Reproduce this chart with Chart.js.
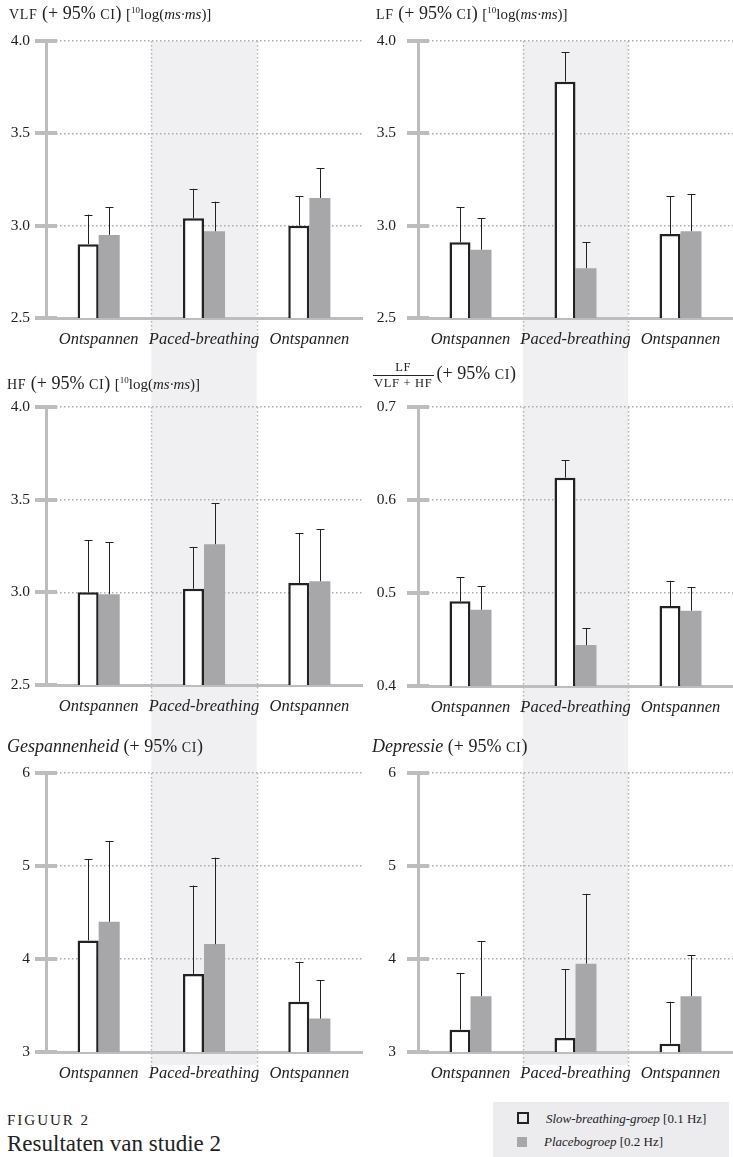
<!DOCTYPE html>
<html>
<head>
<meta charset="utf-8">
<script src="https://cdn.jsdelivr.net/npm/chart.js@4.4.0/dist/chart.umd.min.js"></script>
<style>
  body { margin: 0; width: 733px; height: 1157px; position: relative; background: #fff;
         font-family: "Liberation Serif", serif; color: #222; overflow: hidden; }
  canvas { position: absolute; display: block; }
  .titel { position: absolute; z-index: 2; font-size: 18px; white-space: nowrap; line-height: 1; }
  .kap { font-size: 14px; letter-spacing: 0.7px; }
  .klein { font-size: 15px; }
  .klein sup { font-size: 9px; }
  .breuk { display: inline-block; vertical-align: middle; text-align: center; font-size: 12.5px; letter-spacing: 0.7px; margin-right: 3px; }
  .breuk span { display: block; padding: 0 1px; }
  .breuk .boven { border-bottom: 1px solid #222; padding-bottom: 1px; }
  .breuk .onder { padding-top: 1px; }
  #figuur { position: absolute; left: 7px; top: 1112px; font-size: 15px; letter-spacing: 2px; }
  #onderschrift { position: absolute; left: 7px; top: 1131px; font-size: 23px; }
  #legenda { position: absolute; left: 493px; top: 1102px; width: 236px; height: 55px; background: #ececee; font-size: 13px; }
  #legenda .item { position: absolute; left: 24px; white-space: nowrap; }
  #legenda .blok { display: inline-block; width: 10px; height: 10px; margin-right: 17px; vertical-align: -1px; }
</style>
</head>
<body>

<canvas id="vlf" width="366" height="370" style="left:0;top:0"></canvas>
<canvas id="lf" width="367" height="370" style="left:366px;top:0"></canvas>
<canvas id="hf" width="366" height="370" style="left:0;top:370px"></canvas>
<canvas id="ratio" width="367" height="370" style="left:366px;top:370px"></canvas>
<canvas id="spanning" width="366" height="345" style="left:0;top:740px"></canvas>
<canvas id="depressie" width="367" height="345" style="left:366px;top:740px"></canvas>

<div class="titel" style="left:9px;top:4px"><span class="kap">VLF</span> (+ 95% <span class="kap">CI</span>) <span class="klein">[<sup>10</sup>log(<i>ms·ms</i>)]</span></div>
<div class="titel" style="left:376px;top:4px"><span class="kap">LF</span> (+ 95% <span class="kap">CI</span>) <span class="klein">[<sup>10</sup>log(<i>ms·ms</i>)]</span></div>
<div class="titel" style="left:7px;top:374px"><span class="kap">HF</span> (+ 95% <span class="kap">CI</span>) <span class="klein">[<sup>10</sup>log(<i>ms·ms</i>)]</span></div>
<div class="titel" style="left:373px;top:361px"><span class="breuk"><span class="boven">LF</span><span class="onder">VLF + HF</span></span>(+ 95% <span class="kap">CI</span>)</div>
<div class="titel" style="left:7px;top:737px"><i>Gespannenheid</i> (+ 95% <span class="kap">CI</span>)</div>
<div class="titel" style="left:372px;top:737px"><i>Depressie</i> (+ 95% <span class="kap">CI</span>)</div>

<div id="figuur">FIGUUR 2</div>
<div id="onderschrift">Resultaten van studie 2</div>

<div id="legenda">
  <div class="item" style="top:9px"><span class="blok" style="border:2px solid #222;width:8px;height:8px"></span><i>Slow-breathing-groep</i> [0.1 Hz]</div>
  <div class="item" style="top:32px"><span class="blok" style="background:#a7a7a9"></span><i>Placebogroep</i> [0.2 Hz]</div>
</div>

<script>
// categorieen en groepen
const categorieen = ["Ontspannen", "Paced-breathing", "Ontspannen"];
const groepen = ["Slow-breathing-groep [0.1 Hz]", "Placebogroep [0.2 Hz]"];

// VLF
const vlfSlow = [2.90, 3.04, 3.00];
const vlfSlowCi = [3.06, 3.20, 3.16];
const vlfPlacebo = [2.95, 2.97, 3.15];
const vlfPlaceboCi = [3.10, 3.13, 3.31];
const vlfTicks = [2.5, 3.0, 3.5, 4.0];

// LF
const lfSlow = [2.91, 3.78, 2.955];
const lfSlowCi = [3.10, 3.94, 3.16];
const lfPlacebo = [2.87, 2.77, 2.97];
const lfPlaceboCi = [3.04, 2.91, 3.17];
const lfTicks = [2.5, 3.0, 3.5, 4.0];

// HF
const hfSlow = [3.00, 3.02, 3.05];
const hfSlowCi = [3.28, 3.245, 3.32];
const hfPlacebo = [2.99, 3.26, 3.06];
const hfPlaceboCi = [3.27, 3.48, 3.34];
const hfTicks = [2.5, 3.0, 3.5, 4.0];

// LF / (VLF + HF)
const ratioSlow = [0.491, 0.624, 0.486];
const ratioSlowCi = [0.517, 0.643, 0.513];
const ratioPlacebo = [0.482, 0.444, 0.481];
const ratioPlaceboCi = [0.507, 0.462, 0.506];
const ratioTicks = [0.4, 0.5, 0.6, 0.7];

// Gespannenheid
const spanSlow = [4.20, 3.84, 3.54];
const spanSlowCi = [5.07, 4.79, 3.97];
const spanPlacebo = [4.40, 4.16, 3.36];
const spanPlaceboCi = [5.27, 5.09, 3.77];
const spanTicks = [3, 4, 5, 6];

// Depressie
const depSlow = [3.24, 3.15, 3.09];
const depSlowCi = [3.85, 3.89, 3.54];
const depPlacebo = [3.60, 3.95, 3.60];
const depPlaceboCi = [4.19, 4.70, 4.04];
const depTicks = [3, 4, 5, 6];

const grijs = "#bdbdbf";
const balkGrijs = "#a7a7a9";
const bandKleur = "#f0f0f2";
Chart.defaults.font.family = "'Liberation Serif', serif";
Chart.defaults.color = "#222";

// achtergrondband, stippellijnen, foutbalken en tick-streepjes
const figuurPlugin = {
    id: "figuur",
    beforeDraw(chart, args, opts) {
        const ctx = chart.ctx;
        const x = chart.scales.x;
        const area = chart.chartArea;
        const p0 = x.getPixelForValue(0), p1 = x.getPixelForValue(1), p2 = x.getPixelForValue(2);
        const links = (p0 + p1) / 2, rechts = (p1 + p2) / 2;
        const boven = opts.bandVanafPlot ? area.top : 0;
        const onder = opts.bandOnder != null ? opts.bandOnder : chart.height;
        ctx.save();
        ctx.fillStyle = bandKleur;
        ctx.fillRect(links, boven, rechts - links, onder - boven);
        // stippellijnen langs de band
        ctx.strokeStyle = "#b4b4b6";
        ctx.lineWidth = 1.5;
        ctx.setLineDash([1.5, 2.5]);
        [links, rechts].forEach(function (px) {
            ctx.beginPath();
            ctx.moveTo(Math.round(px) + 0.5, area.top);
            ctx.lineTo(Math.round(px) + 0.5, area.bottom + opts.streep);
            ctx.stroke();
        });
        ctx.restore();
    },
    afterDatasetsDraw(chart, args, opts) {
        const ctx = chart.ctx;
        const y = chart.scales.y;
        ctx.save();
        ctx.setLineDash([]);
        ctx.strokeStyle = "#222";
        ctx.lineWidth = 1;
        chart.data.datasets.forEach(function (ds, i) {
            const meta = chart.getDatasetMeta(i);
            meta.data.forEach(function (bar, j) {
                const top = y.getPixelForValue(opts.ci[i][j]);
                const bx = Math.round(bar.x) + 0.5;
                ctx.beginPath();
                ctx.moveTo(bx, bar.y);
                ctx.lineTo(bx, top);
                ctx.moveTo(bx - 4, Math.round(top) + 0.5);
                ctx.lineTo(bx + 4, Math.round(top) + 0.5);
                ctx.stroke();
            });
        });
        ctx.restore();
    },
    afterDraw(chart) {
        const ctx = chart.ctx;
        const y = chart.scales.y;
        const ax = chart.chartArea.left;
        ctx.save();
        ctx.setLineDash([]);
        ctx.strokeStyle = grijs;
        ctx.lineWidth = 4;
        y.ticks.forEach(function (t) {
            const py = Math.round(y.getPixelForValue(t.value));
            ctx.beginPath();
            ctx.moveTo(ax - 11, py);
            ctx.lineTo(ax + 11, py);
            ctx.stroke();
        });
        ctx.restore();
    }
};

function maakGrafiek(id, slow, slowCi, placebo, placeboCi, ticks, decimalen, opmaak) {
    return new Chart(document.getElementById(id), {
        type: "bar",
        data: {
            labels: categorieen,
            datasets: [
                {
                    label: groepen[0],
                    data: slow,
                    backgroundColor: "#ffffff",
                    borderColor: "#222222",
                    borderWidth: 2.5,
                    borderSkipped: false,
                },
                {
                    label: groepen[1],
                    data: placebo,
                    backgroundColor: balkGrijs,
                    borderWidth: 0,
                },
            ],
        },
        options: {
            responsive: false,
            animation: false,
            categoryPercentage: 0.4,
            barPercentage: 1.0,
            layout: { padding: { top: opmaak.boven, bottom: opmaak.onder, left: 0, right: opmaak.rechts } },
            plugins: {
                legend: { display: false },
                tooltip: { enabled: false },
                figuur: {
                    ci: [slowCi, placeboCi],
                    bandVanafPlot: opmaak.bandVanafPlot,
                    bandOnder: opmaak.bandOnder,
                    streep: 27,
                },
            },
            scales: {
                x: {
                    grid: { display: false },
                    border: { color: grijs, width: 3 },
                    ticks: {
                        font: { size: 16.5, style: "italic" },
                        color: "#222",
                        padding: 4,
                        maxRotation: 0,
                        minRotation: 0,
                        autoSkip: false,
                    },
                    afterFit: function (s) { s.height = 30; },
                },
                y: {
                    min: ticks[0],
                    max: ticks[ticks.length - 1],
                    afterBuildTicks: function (s) { s.ticks = ticks.map(function (v) { return { value: v }; }); },
                    afterFit: function (s) { s.width = opmaak.asBreedte; },
                    grid: { color: "#acacae", lineWidth: 1.5, drawTicks: false },
                    border: { color: grijs, width: 3, dash: [1.5, 2.5] },
                    ticks: {
                        padding: opmaak.asBreedte - 30,
                        font: { size: 15.5 },
                        color: "#222",
                        callback: function (v) { return v.toFixed(decimalen); },
                    },
                },
            },
        },
        plugins: [figuurPlugin],
    });
}

const links = { asBreedte: 46, rechts: 4 };
const rechts = { asBreedte: 52, rechts: 0 };

maakGrafiek("vlf", vlfSlow, vlfSlowCi, vlfPlacebo, vlfPlaceboCi, vlfTicks, 1,
    Object.assign({ boven: 41, onder: 22, bandVanafPlot: true }, links));
maakGrafiek("lf", lfSlow, lfSlowCi, lfPlacebo, lfPlaceboCi, lfTicks, 1,
    Object.assign({ boven: 41, onder: 22, bandVanafPlot: true }, rechts));
maakGrafiek("hf", hfSlow, hfSlowCi, hfPlacebo, hfPlaceboCi, hfTicks, 1,
    Object.assign({ boven: 37, onder: 25, bandVanafPlot: false }, links));
maakGrafiek("ratio", ratioSlow, ratioSlowCi, ratioPlacebo, ratioPlaceboCi, ratioTicks, 1,
    Object.assign({ boven: 37, onder: 24, bandVanafPlot: false }, rechts));
maakGrafiek("spanning", spanSlow, spanSlowCi, spanPlacebo, spanPlaceboCi, spanTicks, 0,
    Object.assign({ boven: 33, onder: 3, bandVanafPlot: false, bandOnder: 325 }, links));
maakGrafiek("depressie", depSlow, depSlowCi, depPlacebo, depPlaceboCi, depTicks, 0,
    Object.assign({ boven: 33, onder: 3, bandVanafPlot: false, bandOnder: 325 }, rechts));
</script>
</body>
</html>
